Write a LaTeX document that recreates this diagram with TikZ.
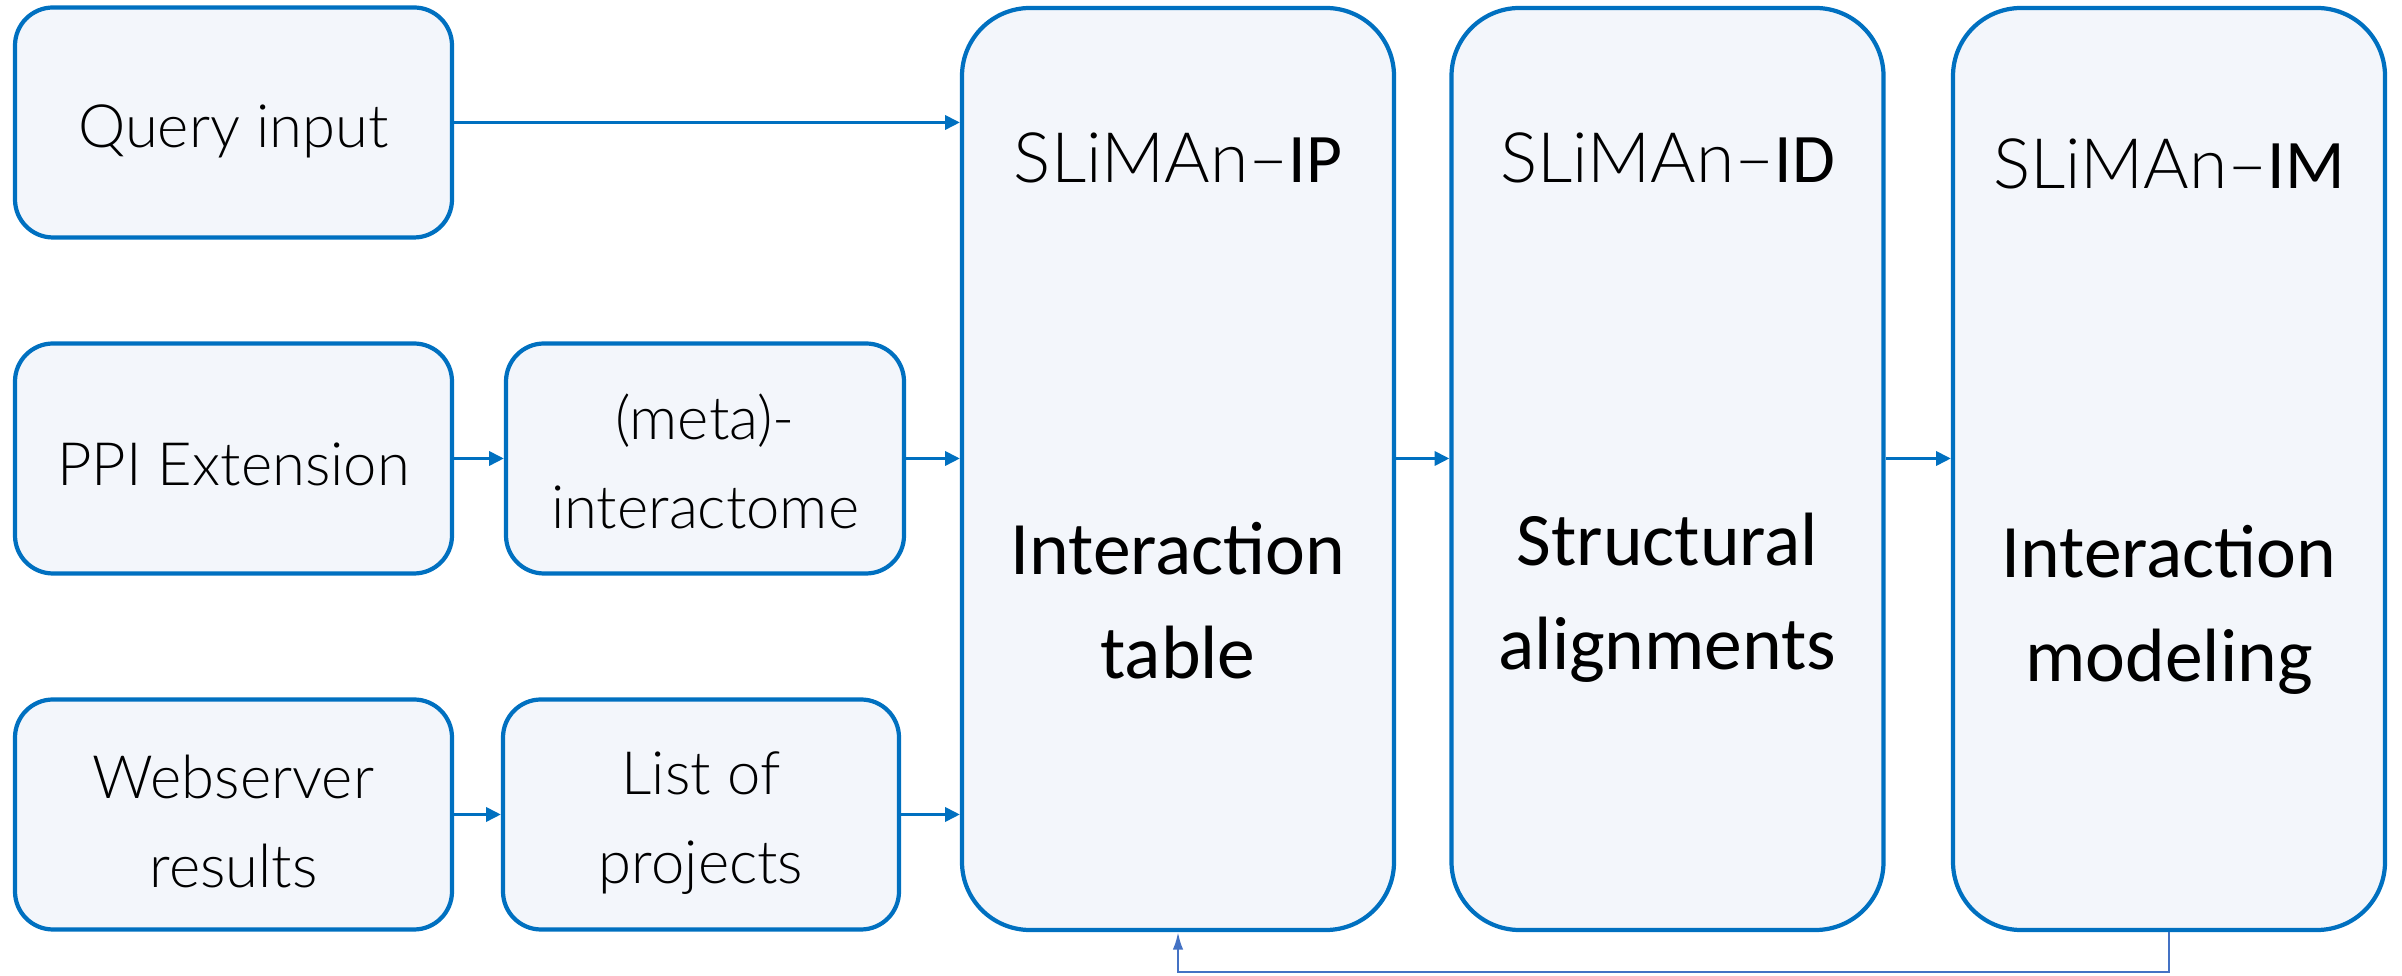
\documentclass[tikz,border=0pt]{standalone}
\usepackage{fontspec}
\setmainfont{Carlito}
\newfontfamily\lightfont{Lato}[UprightFont=* Light]
\usetikzlibrary{arrows.meta}
\definecolor{boxline}{HTML}{0070C0}
\definecolor{boxfill}{HTML}{F3F6FB}
\definecolor{backline}{HTML}{4472C4}
\tikzset{
  smallbox/.style={draw=boxline, fill=boxfill, line width=1.2pt, rounded corners=0.38cm,
    minimum width=#1, minimum height=2.3cm, inner sep=0pt},
  smalltext/.style={align=center, inner sep=0pt,
    font=\lightfont\fontsize{17}{25.3}\selectfont},
  bigbox/.style={draw=boxline, fill=boxfill, line width=1.2pt, rounded corners=0.68cm,
    minimum width=4.32cm, minimum height=9.22cm, inner sep=0pt},
  title/.style={font=\fontsize{19.8}{26}\selectfont, inner sep=0pt},
  body/.style={font=\fontsize{21.5}{29.5}\selectfont, align=center, inner sep=0pt},
  flow/.style={draw=boxline, line width=0.9pt, -{Triangle[length=4.2pt,width=4pt]}},
  back/.style={draw=backline, line width=0.7pt, -{Latex[length=5pt,width=3pt]}}
}
\begin{document}
\begin{tikzpicture}
\useasboundingbox (0,0) rectangle (24.02,9.76);

% input sources
\node[smallbox=4.37cm] (query) at (2.335,8.535) {};
\node[smallbox=4.37cm] (ppi) at (2.335,5.175) {};
\node[smallbox=4.37cm] (web) at (2.335,1.615) {};
\node[smallbox=3.98cm] (meta) at (7.05,5.175) {};
\node[smallbox=3.96cm] (list) at (7.01,1.615) {};

\node[smalltext] (queryt) at ([yshift=-0.09cm]query.center) {Query input};
\node[smalltext] (ppit) at ([yshift=-0.06cm]ppi.center) {PPI Extension};
\node[smalltext] (webt) at ([yshift=-0.07cm]web.center) {Webserver\\results};
\node[smalltext] (metat) at ([yshift=-0.03cm]meta.center) {(meta)-\\interactome};
\node[smalltext] (listt) at ([yshift=-0.09cm]list.center) {List of\\projects};

% pipeline modules
\node[bigbox] (ip) at (11.78,5.07) {};
\node[bigbox] (id) at (16.675,5.07) {};
\node[bigbox] (im) at (21.69,5.07) {};

\node[title] (ipt) at (11.78,8.18) {{\lightfont SLiMAn–}IP};
\node[title] (idt) at (16.675,8.18) {{\lightfont SLiMAn–}ID};
\node[title] (imt) at (21.69,8.12) {{\lightfont SLiMAn–}IM};
\node[body] (ipb) at (11.78,3.75) {Interaction\\table};
\node[body] (idb) at (16.675,3.78) {Structural\\alignments};
\node[body] (imb) at (21.69,3.66) {Interaction\\modeling};

% connectors
\draw[flow] (query.east) -- (query.east -| ip.west);
\draw[flow] (ppi.east) -- (meta.west);
\draw[flow] (meta.east) -- (meta.east -| ip.west);
\draw[flow] (web.east) -- (list.west);
\draw[flow] (list.east) -- (list.east -| ip.west);
\draw[flow] (ip.east |- meta.east) -- (id.west |- meta.east);
\draw[flow] (id.east |- meta.east) -- (im.west |- meta.east);

% feedback loop from modeling back to the interaction table
\coordinate (loop) at (0,0.04);
\draw[back] (im.south) -- (im.south |- loop) -| (ip.south);
\end{tikzpicture}
\end{document}
